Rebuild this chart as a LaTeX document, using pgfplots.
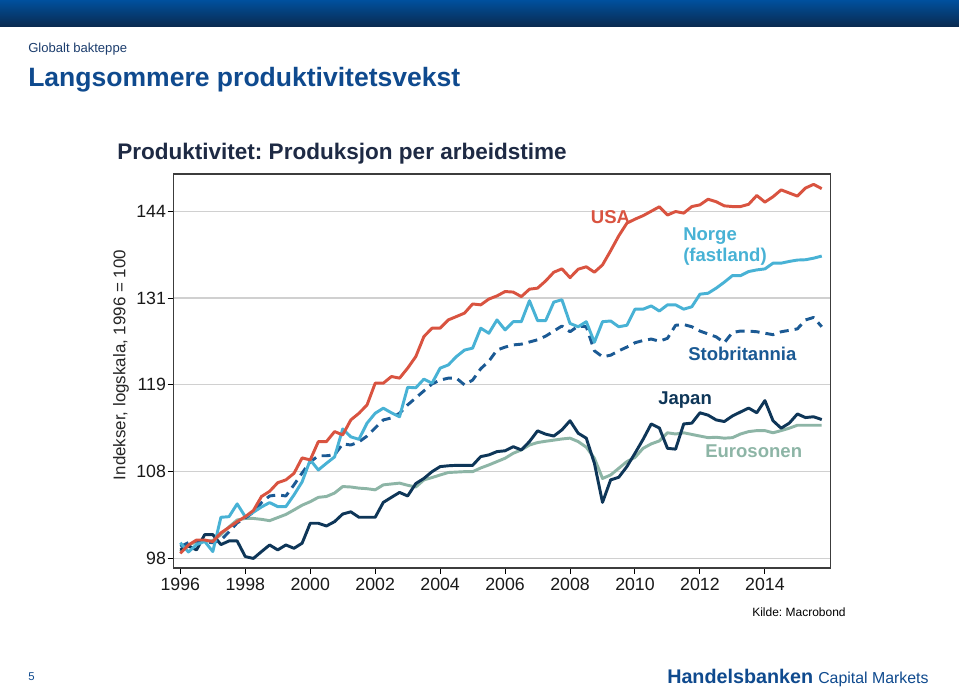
\documentclass[border=0pt]{standalone}
\usepackage{pgfplots}
\pgfplotsset{compat=1.18}
\usepackage{fontspec}
\setmainfont{Liberation Sans}
\frenchspacing
\definecolor{hbtop}{HTML}{00509E}
\definecolor{hbbot}{HTML}{0A2A4E}
\definecolor{hbtitle}{HTML}{0F4A8E}
\definecolor{hbsmall}{HTML}{1D3E6E}
\definecolor{charttitle}{HTML}{1E2A44}
\definecolor{usa}{HTML}{D95340}
\definecolor{nor}{HTML}{48B2D5}
\definecolor{uk}{HTML}{1B5A94}
\definecolor{jpn}{HTML}{0E3658}
\definecolor{eur}{HTML}{8DB5A6}
\definecolor{gridc}{HTML}{D0D0D0}
\definecolor{framec}{HTML}{3C3C3C}
\begin{document}
\begin{tikzpicture}
\begin{scope}[x=0.75pt,y=0.75pt]
\useasboundingbox (0,0) rectangle (959,686);
\fill[white] (0,0) rectangle (959,686);
\shade[top color=hbtop,bottom color=hbbot] (0,659) rectangle (959,686);
\node[anchor=base west, inner sep=0, text=hbsmall, font=\fontsize{9.8}{12}\selectfont] at (28,633) {Globalt bakteppe};
\node[anchor=base west, inner sep=0, text=hbtitle, font=\fontsize{19.9}{24}\selectfont\bfseries] at (28,599) {Langsommere produktivitetsvekst};
\node[anchor=base west, inner sep=0, text=charttitle, font=\fontsize{16.9}{20}\selectfont\bfseries] at (117,526) {Produktivitet: Produksjon per arbeidstime};
\node[rotate=90, inner sep=0, text=black!85, font=\fontsize{12.7}{15}\selectfont] at (121,321) {Indekser, logskala, 1996 = 100};
\end{scope}

\begin{axis}[at={(130.125pt,88.5pt)}, anchor=south west, scale only axis, width=492.75pt, height=295.5pt,
 ymode=log, ymin=96.98, ymax=149.5, xmin=1995.79, xmax=2016.02,
 ytick={98,107.8,118.58,130.438,143.482}, yticklabels={98,108,119,131,144},
 xtick={1996,1998,2000,2002,2004,2006,2008,2010,2012,2014},
 xticklabels={1996,1998,2000,2002,2004,2006,2008,2010,2012,2014},
 ymajorgrids, grid style={gridc, line width=0.9pt},
 axis line style={framec, line width=1.1pt},
 tick align=outside, xtick pos=left, ytick pos=left, major tick length=4.5pt,
 tick style={black, line width=0.75pt},
 ticklabel style={font=\fontsize{13.3}{16}\selectfont, text=black!90},
 yticklabel style={inner xsep=1pt},
 every axis plot/.append style={no markers, line width=2.2pt, line join=round}]
\addplot[eur] coordinates {(1996,98.74)(1996.25,99.46)(1996.5,99.8)(1996.75,99.85)(1997,99.94)(1997.25,100.6)(1997.5,101.45)(1997.75,102.23)(1998,102.4)(1998.25,102.4)(1998.5,102.3)(1998.75,102.15)(1999,102.5)(1999.25,102.85)(1999.5,103.36)(1999.75,103.9)(2000,104.3)(2000.25,104.8)(2000.5,104.9)(2000.75,105.3)(2001,106.05)(2001.25,106.0)(2001.5,105.87)(2001.75,105.8)(2002,105.67)(2002.25,106.25)(2002.5,106.35)(2002.75,106.45)(2003,106.2)(2003.25,106.0)(2003.5,106.83)(2003.75,107.1)(2004,107.41)(2004.25,107.7)(2004.5,107.75)(2004.75,107.8)(2005,107.8)(2005.25,108.24)(2005.5,108.6)(2005.75,109.0)(2006,109.4)(2006.25,110.0)(2006.5,110.4)(2006.75,111.0)(2007,111.3)(2007.25,111.46)(2007.5,111.6)(2007.75,111.74)(2008,111.84)(2008.25,111.42)(2008.5,110.74)(2008.75,109.4)(2009,107.0)(2009.25,107.41)(2009.5,108.2)(2009.75,109.0)(2010,109.5)(2010.25,110.6)(2010.5,111.14)(2010.75,111.5)(2011,112.5)(2011.25,112.35)(2011.5,112.5)(2011.75,112.3)(2012,112.1)(2012.25,111.9)(2012.5,111.95)(2012.75,111.84)(2013,111.9)(2013.25,112.35)(2013.5,112.65)(2013.75,112.77)(2014,112.77)(2014.25,112.5)(2014.5,112.77)(2014.75,113.07)(2015,113.44)(2015.25,113.44)(2015.5,113.44)(2015.75,113.44)};
\addplot[jpn] coordinates {(1996,98.92)(1996.25,99.35)(1996.5,98.92)(1996.75,100.6)(1997,100.6)(1997.25,99.5)(1997.5,99.9)(1997.75,99.9)(1998,98.2)(1998.25,98.0)(1998.5,98.74)(1998.75,99.46)(1999,98.92)(1999.25,99.46)(1999.5,99.1)(1999.75,99.65)(2000,101.86)(2000.25,101.86)(2000.5,101.56)(2000.75,102.04)(2001,102.9)(2001.25,103.15)(2001.5,102.53)(2001.75,102.53)(2002,102.53)(2002.25,104.22)(2002.5,104.8)(2002.75,105.37)(2003,104.96)(2003.25,106.4)(2003.5,107.0)(2003.75,107.8)(2004,108.4)(2004.25,108.5)(2004.5,108.55)(2004.75,108.55)(2005,108.55)(2005.25,109.6)(2005.5,109.8)(2005.75,110.2)(2006,110.3)(2006.25,110.8)(2006.5,110.4)(2006.75,111.42)(2007,112.74)(2007.25,112.33)(2007.5,112.1)(2007.75,112.86)(2008,114.0)(2008.25,112.45)(2008.5,111.84)(2008.75,108.8)(2009,104.22)(2009.25,106.83)(2009.5,107.14)(2009.75,108.4)(2010,110.0)(2010.25,111.7)(2010.5,113.6)(2010.75,113.1)(2011,110.6)(2011.25,110.5)(2011.5,113.6)(2011.75,113.7)(2012,115.0)(2012.25,114.7)(2012.5,114.1)(2012.75,113.9)(2013,114.6)(2013.25,115.1)(2013.5,115.6)(2013.75,115.0)(2014,116.55)(2014.25,114.0)(2014.5,113.07)(2014.75,113.7)(2015,114.85)(2015.25,114.4)(2015.5,114.5)(2015.75,114.15)};
\addplot[uk, dash pattern=on 6.75pt off 4.5pt] coordinates {(1996,99.28)(1996.25,99.71)(1996.5,99.9)(1996.75,99.8)(1997,99.7)(1997.25,100.0)(1997.5,100.9)(1997.75,101.9)(1998,102.45)(1998.25,103.1)(1998.5,104.2)(1998.75,104.96)(1999,105.08)(1999.25,104.96)(1999.5,106.25)(1999.75,107.65)(2000,108.96)(2000.25,109.7)(2000.5,109.7)(2000.75,109.8)(2001,111.14)(2001.25,111.0)(2001.5,111.38)(2001.75,112.1)(2002,113.1)(2002.25,114.1)(2002.5,114.35)(2002.75,114.94)(2003,116.0)(2003.25,116.9)(2003.5,117.8)(2003.75,118.7)(2004,119.2)(2004.25,119.46)(2004.5,119.46)(2004.75,118.58)(2005,119.2)(2005.25,120.7)(2005.5,121.7)(2005.75,123.2)(2006,123.6)(2006.25,123.9)(2006.5,124.0)(2006.75,124.3)(2007,124.6)(2007.25,125.1)(2007.5,125.8)(2007.75,126.5)(2008,125.7)(2008.25,126.5)(2008.5,126.4)(2008.75,123.1)(2009,122.3)(2009.25,122.5)(2009.5,123.1)(2009.75,123.6)(2010,124.2)(2010.25,124.5)(2010.5,124.7)(2010.75,124.4)(2011,124.8)(2011.25,126.6)(2011.5,126.7)(2011.75,126.4)(2012,125.8)(2012.25,125.4)(2012.5,125.0)(2012.75,124.2)(2013,125.6)(2013.25,125.8)(2013.5,125.8)(2013.75,125.7)(2014,125.5)(2014.25,125.3)(2014.5,125.7)(2014.75,125.9)(2015,126.1)(2015.25,127.35)(2015.5,127.7)(2015.75,126.4)};
\addplot[nor] coordinates {(1996,99.7)(1996.25,98.7)(1996.5,99.5)(1996.75,99.85)(1997,98.74)(1997.25,102.53)(1997.5,102.6)(1997.75,104.05)(1998,102.6)(1998.25,103.1)(1998.5,103.7)(1998.75,104.2)(1999,103.74)(1999.25,103.74)(1999.5,105.08)(1999.75,106.6)(2000,109.2)(2000.25,108.0)(2000.5,108.8)(2000.75,109.56)(2001,112.98)(2001.25,112.0)(2001.5,111.7)(2001.75,113.7)(2002,114.94)(2002.25,115.58)(2002.5,115.0)(2002.75,114.5)(2003,118.26)(2003.25,118.2)(2003.5,119.33)(2003.75,118.8)(2004,120.78)(2004.25,121.2)(2004.5,122.32)(2004.75,123.2)(2005,123.46)(2005.25,126.2)(2005.5,125.5)(2005.75,127.35)(2006,125.96)(2006.25,127.1)(2006.5,127.1)(2006.75,130.06)(2007,127.25)(2007.25,127.25)(2007.5,129.87)(2007.75,130.2)(2008,126.85)(2008.25,126.4)(2008.5,127.1)(2008.75,124.27)(2009,127.1)(2009.25,127.2)(2009.5,126.4)(2009.75,126.6)(2010,128.86)(2010.25,128.86)(2010.5,129.32)(2010.75,128.6)(2011,129.47)(2011.25,129.47)(2011.5,128.86)(2011.75,129.2)(2012,131.0)(2012.25,131.13)(2012.5,131.87)(2012.75,132.74)(2013,133.7)(2013.25,133.7)(2013.5,134.3)(2013.75,134.54)(2014,134.69)(2014.25,135.54)(2014.5,135.54)(2014.75,135.8)(2015,136.0)(2015.25,136.05)(2015.5,136.28)(2015.75,136.6)};
\addplot[usa] coordinates {(1996,98.55)(1996.25,99.46)(1996.5,100.0)(1996.75,100.0)(1997,99.83)(1997.25,100.79)(1997.5,101.4)(1997.75,102.04)(1998,102.6)(1998.25,103.3)(1998.5,104.9)(1998.75,105.5)(1999,106.5)(1999.25,106.83)(1999.5,107.6)(1999.75,109.44)(2000,109.2)(2000.25,111.42)(2000.5,111.42)(2000.75,112.65)(2001,112.24)(2001.25,114.1)(2001.5,114.94)(2001.75,116.0)(2002,118.8)(2002.25,118.8)(2002.5,119.67)(2002.75,119.46)(2003,120.78)(2003.25,122.32)(2003.5,125.04)(2003.75,126.2)(2004,126.2)(2004.25,127.35)(2004.5,127.82)(2004.75,128.3)(2005,129.6)(2005.25,129.47)(2005.5,130.3)(2005.75,130.75)(2006,131.38)(2006.25,131.3)(2006.5,130.65)(2006.75,131.72)(2007,131.87)(2007.25,132.93)(2007.5,134.2)(2007.75,134.7)(2008,133.4)(2008.25,134.64)(2008.5,135.0)(2008.75,134.2)(2009,135.28)(2009.25,137.4)(2009.5,139.67)(2009.75,141.63)(2010,142.25)(2010.25,142.8)(2010.5,143.5)(2010.75,144.2)(2011,142.9)(2011.25,143.45)(2011.5,143.2)(2011.75,144.24)(2012,144.5)(2012.25,145.4)(2012.5,145.0)(2012.75,144.35)(2013,144.24)(2013.25,144.24)(2013.5,144.6)(2013.75,146.0)(2014,144.94)(2014.25,145.8)(2014.5,146.9)(2014.75,146.4)(2015,145.9)(2015.25,147.2)(2015.5,147.8)(2015.75,147.1)};
\end{axis}

\begin{scope}[x=0.75pt,y=0.75pt]
\begin{scope}[every node/.style={inner sep=0, font=\fontsize{13.9}{16}\selectfont\bfseries}]
\node[anchor=base, text=usa] at (610.5,462.5) {USA};
\node[anchor=base west, text=nor] at (683,445.5) {Norge};
\node[anchor=base west, text=nor] at (683,425) {(fastland)};
\node[anchor=base west, text=uk] at (688,325.5) {Stobritannia};
\node[anchor=base west, text=jpn] at (658,281.5) {Japan};
\node[anchor=base west, text=eur] at (705,228.5) {Eurosonen};
\end{scope}
\node[anchor=base west, inner sep=0, font=\fontsize{9}{11}\selectfont] at (752,70) {Kilde: Macrobond};
\node[anchor=base west, inner sep=0, text=hbtitle, font=\fontsize{8.5}{10}\selectfont] at (28,6) {5};
\node[anchor=base west, inner sep=0, text=hbtitle, font=\fontsize{14.8}{17}\selectfont\bfseries] at (667,3) {Handelsbanken};
\node[anchor=base west, inner sep=0, text=hbtitle, font=\fontsize{11.9}{14}\selectfont] at (818,3) {Capital Markets};
\end{scope}
\end{tikzpicture}
\end{document}
